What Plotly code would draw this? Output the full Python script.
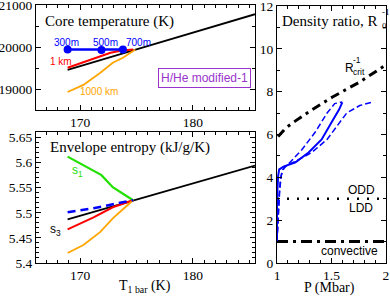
import plotly.graph_objects as go

# ---- Top-left: core temperature (K) vs T_1bar ----
t_black = [168.9, 171.8, 174.2, 175.3, 185.5]
core_black = [19460, 19700, 19880, 19975, 20790]
t_red = [168.9, 170.9, 172.7, 173.7, 174.7]
core_red = [19510, 19700, 19870, 19920, 19945]
t_orange = [168.9, 170.3, 171.8, 172.9, 173.8, 174.6, 174.9]
core_orange = [18930, 19100, 19390, 19630, 19750, 19895, 19945]
t_blue = [168.9, 171.9, 173.8]
core_blue = [19945, 19935, 19945]
blue_labels = ["300m", "500m", "700m"]

# ---- Bottom-left: envelope entropy (kJ/g/K) ----
s_black = [5.487, 5.524, 5.594]
t_s_black = [168.9, 174.7, 185.5]
t_green = [168.9, 170.7, 171.9, 172.9, 174.0, 174.7]
s_green = [5.612, 5.590, 5.575, 5.551, 5.535, 5.525]
t_bdash = [168.9, 171.2, 172.9, 174.7]
s_bdash = [5.501, 5.509, 5.517, 5.525]
t_red2 = [168.9, 171.2, 172.9, 174.7]
s_red2 = [5.467, 5.491, 5.511, 5.525]
t_orange2 = [168.9, 170.3, 171.8, 172.9, 174.0, 174.7]
s_orange2 = [5.420, 5.436, 5.462, 5.489, 5.511, 5.525]

# ---- Right: density ratio vs P (Mbar) ----
p_rcrit = [1.01, 1.08, 1.16, 1.29, 1.51, 1.76, 2.0]
r_rcrit = [5.9, 6.3, 6.6, 7.05, 7.75, 8.45, 9.25]
p_solid = [1.0, 1.0, 1.01, 1.02, 1.06, 1.17, 1.29, 1.41, 1.50, 1.57, 1.60]
r_solid = [1.0, 3.0, 4.05, 4.37, 4.5, 4.7, 5.16, 5.77, 6.56, 7.16, 7.5]
p_dash_up = [1.0, 1.01, 1.02, 1.03, 1.05, 1.12, 1.23, 1.35, 1.46, 1.53, 1.60]
r_dash_up = [1.0, 2.0, 3.1, 3.9, 4.35, 4.7, 5.3, 6.1, 7.0, 7.44, 7.52]
p_dash_lo = [1.0, 1.01, 1.02, 1.04, 1.07, 1.20, 1.32, 1.46, 1.57, 1.64, 1.76, 1.87]
r_dash_lo = [1.0, 2.0, 3.2, 4.1, 4.5, 4.83, 5.16, 5.77, 6.5, 7.0, 7.35, 7.5]
p_span = [1.0, 2.0]
odd_ldd = [3.0, 3.0]
convective = [1.0, 1.0]

SERIF = "Liberation Serif"
SANS = "Liberation Sans"
BLUE = "#0000ff"
RED = "#ff0000"
ORANGE = "#ffa500"
GREEN = "#22e000"
PURPLE = "#9933cc"

fig = go.Figure()

def add(x, y, xa, ya, color, width=2, dash="solid", mode="lines", marker=None):
    fig.add_trace(go.Scatter(x=x, y=y, xaxis=xa, yaxis=ya, mode=mode,
                             line=dict(color=color, width=width, dash=dash),
                             marker=marker, showlegend=False, hoverinfo="skip"))

# top-left
add(t_black, core_black, "x", "y", "black", 1.8)
add(t_orange, core_orange, "x", "y", ORANGE, 1.8)
add(t_red, core_red, "x", "y", RED, 2)
add(t_blue, core_blue, "x", "y", BLUE, 2.5, mode="lines+markers",
    marker=dict(size=8, color=BLUE))

# bottom-left
add(t_s_black, s_black, "x2", "y2", "black", 1.8)
add(t_green, s_green, "x2", "y2", GREEN, 2.2)
add(t_red2, s_red2, "x2", "y2", RED, 2)
add(t_orange2, s_orange2, "x2", "y2", ORANGE, 1.8)
add(t_bdash, s_bdash, "x2", "y2", BLUE, 2.5, dash="8px,5px")

# right
add(p_span, convective, "x3", "y3", "black", 3, dash="11px,5px,3px,5px")
add(p_span, odd_ldd, "x3", "y3", "black", 2.5, dash="2px,8px")
add(p_rcrit, r_rcrit, "x3", "y3", "black", 3, dash="9px,5px,3px,5px")
add(p_dash_up, r_dash_up, "x3", "y3", BLUE, 1.5, dash="6px,3px")
add(p_dash_lo, r_dash_lo, "x3", "y3", BLUE, 1.5, dash="6px,3px")
add(p_solid, r_solid, "x3", "y3", BLUE, 2)

W, H = 390, 296
def px(x): return x / W
def py(y): return 1 - y / H

tickfont = dict(family=SERIF, size=13.5, color="black")
common = dict(showline=True, linecolor="black", linewidth=1, mirror="ticks",
              ticks="inside", ticklen=5, tickcolor="black", tickwidth=1,
              showgrid=False, zeroline=False, tickfont=tickfont, automargin=False,
              ticklabeloverflow="allow")

fig.update_layout(
    template="none",
    width=W, height=H, margin=dict(l=0, r=0, t=0, b=0, pad=0), autosize=False,
    paper_bgcolor="white", plot_bgcolor="white",
    xaxis=dict(domain=[px(36), px(255)], range=[166.1, 185.5], dtick=10, anchor="y",
               minor=dict(ticks="inside", dtick=1, ticklen=3, tickcolor="black"), **common),
    yaxis=dict(domain=[py(110), py(5)], range=[18500, 21010], dtick=1000, tickformat="d",
               anchor="x", minor=dict(ticks="inside", dtick=500, ticklen=3, tickcolor="black"),
               **common),
    xaxis2=dict(domain=[px(36), px(255)], range=[166.1, 185.5], dtick=10, anchor="y2",
                minor=dict(ticks="inside", dtick=1, ticklen=3, tickcolor="black"), **common),
    yaxis2=dict(domain=[py(263), py(132)], range=[5.4, 5.661], dtick=0.05, tick0=5.4,
                anchor="x2", minor=dict(ticks="inside", dtick=0.01, ticklen=3, tickcolor="black"),
                **common),
    xaxis3=dict(domain=[px(277), px(386)], range=[1, 2.001], dtick=0.5, anchor="y3",
                minor=dict(ticks="inside", dtick=0.1, ticklen=3, tickcolor="black"), **common),
    yaxis3=dict(domain=[py(263), py(5.5)], range=[0, 12.02], dtick=2, anchor="x3",
                minor=dict(ticks="inside", dtick=1, ticklen=3, tickcolor="black"), **common),
)

ann = []
def A(text, x, y, xref="paper", yref="paper", size=12, color="black", family=SANS,
      xanchor="center", yanchor="middle", **kw):
    ann.append(dict(text=text, x=x, y=y, xref=xref, yref=yref, showarrow=False,
                    font=dict(family=family, size=size, color=color),
                    xanchor=xanchor, yanchor=yanchor, **kw))

# panel titles
A("Core temperature (K)", px(43), py(21), size=15, family=SERIF, xanchor="left")
A("Envelope entropy (kJ/g/K)", px(48), py(147), size=15, family=SERIF, xanchor="left")
A("Density ratio, R", px(379), py(21), size=15, family=SERIF, xanchor="right")
A("0", px(379.5), py(26), size=9, family=SERIF, xanchor="left")
A("-1", px(379.5), py(12), size=9, family=SERIF, xanchor="left")

# axis titles
A("T<sub>1 bar</sub> (K)", px(145), py(286), size=14, family=SERIF)
A("P (Mbar)", px(329), py(287.5), size=14, family=SERIF)

# top-left labels
label_x = [px(66), px(106), px(138)]
for lab, lx in zip(blue_labels, label_x):
    A(lab, lx, py(42), size=10, color=BLUE)
A("1 km", px(61), py(62), size=10, color=RED)
A("1000 km", px(99), py(91), size=10, color=ORANGE)
A("H/He modified-1", px(204), py(78), size=12, color=PURPLE,
  bordercolor=PURPLE, borderwidth=1, borderpad=2, bgcolor="white")

# bottom-left labels
A("s<sub>1</sub>", px(77), py(171), size=12, color=GREEN)
A("s<sub>3</sub>", px(55), py(230), size=12, color="black")

# right labels
A("R", px(343), py(68), size=12, xanchor="left")
A("crit", px(351), py(72), size=8.5, xanchor="left")
A("-1", px(351), py(60), size=8.5, xanchor="left")
A("ODD", px(361), py(190), size=12)
A("LDD", px(361), py(208), size=12)
A("convective", px(349), py(251), size=12)

fig.update_layout(annotations=ann)
fig.write_html("out.html", config={"displayModeBar": False, "staticPlot": True},
               post_script="document.body.style.margin='0px';document.body.style.overflow='hidden';")
